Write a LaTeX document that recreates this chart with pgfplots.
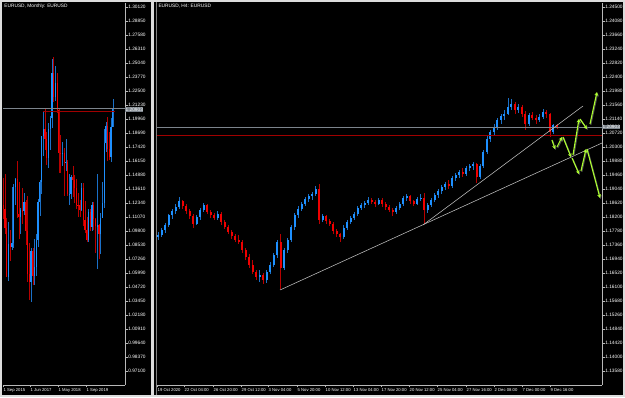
\documentclass[border=0pt]{standalone}
\usepackage{fontspec}
\setmainfont{Liberation Sans}
\usepackage{pgfplots}
\pgfplotsset{compat=1.18}
\usepackage{pgfplotstable}
\usetikzlibrary{arrows.meta}
\definecolor{upc}{HTML}{1E90FF}
\definecolor{upw}{HTML}{1A70C8}
\definecolor{dnc}{HTML}{F00000}
\definecolor{dnw}{HTML}{B80000}
\definecolor{framec}{HTML}{DCDCDC}
\definecolor{axc}{HTML}{B8B8B8}
\definecolor{arr}{HTML}{ADFF2F}
\definecolor{hline}{HTML}{A00000}
\definecolor{bid}{HTML}{7C848C}
\definecolor{trend}{HTML}{C0C0C0}

\pgfplotstableread{
i o h l c
0 1.1213 1.1460 1.1087 1.1177
1 1.1177 1.1495 1.0957 1.1004
2 1.1004 1.1096 1.0562 1.0566
3 1.0566 1.1060 1.0523 1.0862
4 1.0862 1.0986 1.0711 1.0832
5 1.0832 1.1376 1.0810 1.0873
6 1.0873 1.1409 1.0822 1.1380
7 1.1380 1.1464 1.1217 1.1454
8 1.1454 1.1616 1.1097 1.1130
9 1.1130 1.1428 1.0912 1.1103
10 1.1103 1.1185 1.0952 1.1174
11 1.1174 1.1366 1.1046 1.1157
12 1.1157 1.1327 1.1122 1.1240
13 1.1240 1.1258 1.0852 1.0980
14 1.0980 1.1300 1.0518 1.0587
15 1.0587 1.0874 1.0352 1.0517
16 1.0517 1.0829 1.0340 1.0798
17 1.0798 1.0829 1.0494 1.0574
18 1.0574 1.0906 1.0494 1.0652
19 1.0652 1.0951 1.0570 1.0895
20 1.0895 1.1268 1.0839 1.1244
21 1.1244 1.1446 1.1118 1.1425
22 1.1425 1.1846 1.1312 1.1840
23 1.1840 1.2070 1.1662 1.1908
24 1.1908 1.2092 1.1717 1.1813
25 1.1813 1.1880 1.1575 1.1646
26 1.1646 1.1961 1.1554 1.1904
27 1.1904 1.2023 1.1717 1.2005
28 1.2005 1.2537 1.1915 1.2414
29 1.2414 1.2555 1.2154 1.2194
30 1.2194 1.2476 1.2155 1.2324
31 1.2324 1.2414 1.2054 1.2079
32 1.2079 1.2097 1.1510 1.1692
33 1.1692 1.1852 1.1508 1.1684
34 1.1684 1.1791 1.1574 1.1690
35 1.1690 1.1734 1.1301 1.1602
36 1.1602 1.1815 1.1526 1.1604
37 1.1604 1.1622 1.1302 1.1312
38 1.1312 1.1500 1.1215 1.1317
39 1.1317 1.1486 1.1269 1.1466
40 1.1466 1.1570 1.1289 1.1446
41 1.1446 1.1489 1.1234 1.1372
42 1.1372 1.1448 1.1176 1.1217
43 1.1217 1.1324 1.1110 1.1214
44 1.1214 1.1265 1.1107 1.1169
45 1.1169 1.1412 1.1160 1.1370
46 1.1370 1.1412 1.1028 1.1077
47 1.1077 1.1250 1.0963 1.0987
48 1.0987 1.1109 1.0878 1.0900
49 1.0900 1.1179 1.0879 1.1152
50 1.1152 1.1176 1.0981 1.1016
51 1.1016 1.1240 1.0981 1.1213
52 1.1213 1.1239 1.0992 1.1092
53 1.1092 1.1100 1.0778 1.1027
54 1.1027 1.1495 1.0636 1.1030
55 1.1030 1.1040 1.0727 1.0955
56 1.0955 1.1147 1.0767 1.1102
57 1.1102 1.1422 1.1101 1.1234
58 1.1234 1.1908 1.1185 1.1778
59 1.1778 1.1966 1.1695 1.1935
60 1.1935 1.2011 1.1612 1.1720
61 1.1720 1.1881 1.1622 1.1647
62 1.1647 1.2003 1.1603 1.1926
63 1.1926 1.2177 1.1923 1.2090
}\monthly

\pgfplotstableread{
k o h l c
0 1.1760 1.1775 1.1752 1.1766
1 1.1766 1.1788 1.1760 1.1780
2 1.1780 1.1802 1.1772 1.1796
3 1.1796 1.1830 1.1790 1.1825
4 1.1825 1.1845 1.1815 1.1838
5 1.1838 1.1858 1.1830 1.1850
6 1.1850 1.1880 1.1845 1.1868
7 1.1868 1.1872 1.1845 1.1852
8 1.1852 1.1860 1.1830 1.1838
9 1.1838 1.1845 1.1815 1.1822
10 1.1822 1.1828 1.1787 1.1800
11 1.1800 1.1826 1.1795 1.1820
12 1.1820 1.1848 1.1812 1.1842
13 1.1842 1.1862 1.1835 1.1856
14 1.1856 1.1860 1.1828 1.1835
15 1.1835 1.1842 1.1818 1.1826
16 1.1826 1.1833 1.1810 1.1817
17 1.1817 1.1838 1.1812 1.1830
18 1.1830 1.1836 1.1795 1.1805
19 1.1805 1.1812 1.1785 1.1790
20 1.1790 1.1796 1.1768 1.1775
21 1.1775 1.1782 1.1755 1.1762
22 1.1762 1.1770 1.1745 1.1752
23 1.1752 1.1765 1.1738 1.1745
24 1.1745 1.1750 1.1712 1.1720
25 1.1720 1.1728 1.1692 1.1700
26 1.1700 1.1708 1.1668 1.1676
27 1.1676 1.1690 1.1648 1.1655
28 1.1655 1.1662 1.1630 1.1640
29 1.1640 1.1660 1.1625 1.1645
30 1.1645 1.1652 1.1620 1.1630
31 1.1630 1.1662 1.1622 1.1655
32 1.1655 1.1685 1.1648 1.1676
33 1.1676 1.1712 1.1670 1.1706
34 1.1706 1.1752 1.1698 1.1745
35 1.1745 1.1770 1.1603 1.1668
36 1.1668 1.1728 1.1660 1.1720
37 1.1720 1.1758 1.1712 1.1751
38 1.1751 1.1795 1.1745 1.1790
39 1.1790 1.1832 1.1782 1.1825
40 1.1825 1.1852 1.1818 1.1845
41 1.1845 1.1866 1.1838 1.1860
42 1.1860 1.1880 1.1852 1.1875
43 1.1875 1.1888 1.1866 1.1882
44 1.1882 1.1895 1.1872 1.1890
45 1.1890 1.1912 1.1884 1.1905
46 1.1905 1.1920 1.1800 1.1812
47 1.1812 1.1830 1.1805 1.1822
48 1.1822 1.1826 1.1800 1.1808
49 1.1808 1.1815 1.1792 1.1800
50 1.1800 1.1806 1.1770 1.1778
51 1.1778 1.1785 1.1760 1.1768
52 1.1768 1.1772 1.1745 1.1760
53 1.1760 1.1795 1.1755 1.1788
54 1.1788 1.1810 1.1780 1.1805
55 1.1805 1.1824 1.1798 1.1818
56 1.1818 1.1836 1.1810 1.1830
57 1.1830 1.1852 1.1822 1.1847
58 1.1847 1.1862 1.1840 1.1855
59 1.1855 1.1868 1.1846 1.1862
60 1.1862 1.1880 1.1855 1.1872
61 1.1872 1.1878 1.1858 1.1865
62 1.1865 1.1870 1.1850 1.1860
63 1.1860 1.1878 1.1855 1.1872
64 1.1872 1.1876 1.1850 1.1858
65 1.1858 1.1864 1.1842 1.1850
66 1.1850 1.1856 1.1835 1.1842
67 1.1842 1.1848 1.1822 1.1835
68 1.1835 1.1854 1.1830 1.1848
69 1.1848 1.1866 1.1842 1.1860
70 1.1860 1.1882 1.1852 1.1876
71 1.1876 1.1890 1.1868 1.1882
72 1.1882 1.1886 1.1860 1.1868
73 1.1868 1.1872 1.1852 1.1860
74 1.1860 1.1880 1.1855 1.1875
75 1.1875 1.1890 1.1868 1.1878
76 1.1878 1.1892 1.1800 1.1840
77 1.1840 1.1862 1.1832 1.1856
78 1.1856 1.1878 1.1850 1.1872
79 1.1872 1.1892 1.1865 1.1886
80 1.1886 1.1905 1.1878 1.1898
81 1.1898 1.1915 1.1890 1.1910
82 1.1910 1.1924 1.1900 1.1918
83 1.1918 1.1930 1.1905 1.1912
84 1.1912 1.1942 1.1908 1.1937
85 1.1937 1.1952 1.1928 1.1945
86 1.1945 1.1962 1.1938 1.1955
87 1.1955 1.1968 1.1940 1.1948
88 1.1948 1.1972 1.1942 1.1967
89 1.1967 1.1980 1.1958 1.1972
90 1.1972 1.1985 1.1962 1.1978
91 1.1978 1.1982 1.1922 1.1940
92 1.1940 1.1978 1.1935 1.1972
93 1.1972 1.2022 1.1966 1.2015
94 1.2015 1.2062 1.2008 1.2055
95 1.2055 1.2082 1.2045 1.2075
96 1.2075 1.2098 1.2065 1.2090
97 1.2090 1.2118 1.2082 1.2110
98 1.2110 1.2130 1.2100 1.2122
99 1.2122 1.2140 1.2112 1.2130
100 1.2130 1.2177 1.2125 1.2150
101 1.2150 1.2175 1.2140 1.2158
102 1.2158 1.2165 1.2130 1.2140
103 1.2140 1.2160 1.2132 1.2150
104 1.2150 1.2155 1.2120 1.2130
105 1.2130 1.2138 1.2081 1.2100
106 1.2100 1.2132 1.2092 1.2125
107 1.2125 1.2135 1.2110 1.2118
108 1.2118 1.2125 1.2100 1.2112
109 1.2112 1.2128 1.2105 1.2120
110 1.2120 1.2145 1.2115 1.2135
111 1.2135 1.2142 1.2118 1.2128
112 1.2128 1.2132 1.2060 1.2075
113 1.2075 1.2100 1.2068 1.2095
114 1.2095 1.2100 1.2085 1.2090
}\hfour

\newcommand{\tinyfont}{\fontsize{4.8}{5.2}\selectfont}
\newcommand{\xfont}{\fontsize{4.2}{4.6}\selectfont}

\pgfplotsset{
  mt/.style={
    scale only axis, clip=false, enlargelimits=false,
    axis x line*=bottom, axis y line*=right,
    axis line style={draw=axc, line width=0.5pt, -},
    tick align=outside, major tick length=2.5pt,
    tick style={draw=axc, line width=0.4pt},
    yticklabel style={font=\tinyfont, text=white, anchor=west, inner sep=0pt, xshift=0.6pt},
    xticklabel style={font=\xfont, text=white, anchor=north west, inner sep=0pt, xshift=0.5pt, yshift=-0.8pt},
    minor tick num=0,
  },
  wickup/.style 2 args={draw=none, forget plot,
    restrict expr to domain={\thisrow{c}-\thisrow{o}}{0:1},
    error bars/.cd, y dir=both, y explicit, error mark=none,
    error bar style={draw=#1, line width=#2}},
  wickdn/.style 2 args={draw=none, forget plot,
    restrict expr to domain={\thisrow{c}-\thisrow{o}}{-1:-0.00000001},
    error bars/.cd, y dir=both, y explicit, error mark=none,
    error bar style={draw=#1, line width=#2}},
  arrw/.style={draw=arr, line width=1.1pt, -{Stealth[length=3.6pt,width=3.8pt]}, forget plot},
  arrs/.style={draw=black!70, line width=1.1pt, -{Stealth[length=3.6pt,width=3.8pt]}, forget plot, xshift=0.8pt, yshift=-0.9pt},
}

\begin{document}
\begin{tikzpicture}[x=1pt,y=1pt]
\fill[framec] (0,0) rectangle (625,397);
\fill[black] (2,2) rectangle (151,395);
\fill[black] (153.5,2) rectangle (623,395);
\draw[gray, line width=0.6pt] (156.3,2) -- (156.3,395);

% ---------------- left: monthly ----------------
\begin{axis}[mt, at={(3pt,12pt)}, anchor=south west, width=122pt, height=382pt,
  xmin=-0.115, xmax=70.0, ymin=0.9583, ymax=1.30483,
  xtick={-0.115,15.4,31.5,47.6},
  xticklabels={1 Sep 2015,1 Jun 2017,1 May 2018,1 Sep 2019},
  ytick={1.30120,1.28850,1.27580,1.26310,1.25040,1.23770,1.22500,1.21230,1.19960,1.18690,1.17420,1.16150,1.14880,1.13610,1.12340,1.11070,1.09800,1.08530,1.07260,1.05990,1.04720,1.03450,1.02180,1.00910,0.99640,0.98370,0.97100},
  yticklabels={1.30120,1.28850,1.27580,1.26310,1.25040,1.23770,1.22500,1.21230,1.19960,1.18690,1.17420,1.16150,1.14880,1.13610,1.12340,1.11070,1.09800,1.08530,1.07260,1.05990,1.04720,1.03450,1.02180,1.00910,0.99640,0.98370,0.97100},
]
\addplot [wickup={upw}{0.45pt}] table [x=i, y expr=(\thisrow{h}+\thisrow{l})/2, y error expr=(\thisrow{h}-\thisrow{l})/2] {\monthly};
\addplot [wickdn={dnw}{0.45pt}] table [x=i, y expr=(\thisrow{h}+\thisrow{l})/2, y error expr=(\thisrow{h}-\thisrow{l})/2] {\monthly};
\addplot [wickup={upc}{1.2pt}] table [x=i, y expr=(\thisrow{o}+\thisrow{c})/2, y error expr=abs(\thisrow{c}-\thisrow{o})/2] {\monthly};
\addplot [wickdn={dnc}{1.2pt}] table [x=i, y expr=(\thisrow{o}+\thisrow{c})/2, y error expr=abs(\thisrow{c}-\thisrow{o})/2] {\monthly};
\addplot [bid, line width=0.6pt, forget plot] coordinates {(-0.115,1.2090) (70.0,1.2090)};
\addplot [hline, line width=0.6pt, forget plot] coordinates {(22.9,1.2070) (64.3,1.2070)};
\node[anchor=west, fill=bid, text=white, inner sep=0.4pt, font=\tinyfont] at (axis cs:70.0,1.2082) {1.20903};
\node[anchor=north west, text=white, inner sep=0pt, font=\tinyfont] at (rel axis cs:0.01,0.997) {EURUSD, Monthly: EURUSD};
\end{axis}

% ---------------- right: H4 ----------------
\begin{axis}[mt, at={(157pt,12pt)}, anchor=south west, width=445pt, height=382pt,
  xmin=-0.29, xmax=126.86, ymin=1.1316, ymax=1.2462,
  xtick={-0.29,7.43,15.71,23.71,31.43,39.71,47.71,55.71,63.71,71.71,79.71,88.0,96.0,104.0,112.0},
  xticklabels={19 Oct 2020,22 Oct 04:00,26 Oct 20:00,29 Oct 12:00,3 Nov 04:00,5 Nov 20:00,10 Nov 12:00,13 Nov 04:00,17 Nov 20:00,20 Nov 12:00,25 Nov 04:00,27 Nov 16:00,2 Dec 08:00,7 Dec 00:00,9 Dec 16:00},
  ytick={1.24500,1.24080,1.23660,1.23240,1.22820,1.22400,1.21980,1.21560,1.21140,1.20720,1.20300,1.19880,1.19460,1.19040,1.18620,1.18200,1.17780,1.17360,1.16940,1.16520,1.16100,1.15680,1.15260,1.14840,1.14420,1.14000,1.13580},
  yticklabels={1.24500,1.24080,1.23660,1.23240,1.22820,1.22400,1.21980,1.21560,1.21140,1.20720,1.20300,1.19880,1.19460,1.19040,1.18620,1.18200,1.17780,1.17360,1.16940,1.16520,1.16100,1.15680,1.15260,1.14840,1.14420,1.14000,1.13580},
]
\addplot [wickup={upw}{0.6pt}] table [x=k, y expr=(\thisrow{h}+\thisrow{l})/2, y error expr=(\thisrow{h}-\thisrow{l})/2] {\hfour};
\addplot [wickdn={dnw}{0.6pt}] table [x=k, y expr=(\thisrow{h}+\thisrow{l})/2, y error expr=(\thisrow{h}-\thisrow{l})/2] {\hfour};
\addplot [wickup={upc}{2.0pt}] table [x=k, y expr=(\thisrow{o}+\thisrow{c})/2, y error expr=abs(\thisrow{c}-\thisrow{o})/2] {\hfour};
\addplot [wickdn={dnc}{2.0pt}] table [x=k, y expr=(\thisrow{o}+\thisrow{c})/2, y error expr=abs(\thisrow{c}-\thisrow{o})/2] {\hfour};
\addplot [bid, line width=0.6pt, forget plot] coordinates {(-0.29,1.2090) (126.86,1.2090)};
\addplot [hline, line width=0.6pt, forget plot] coordinates {(-0.29,1.2066) (126.86,1.2066)};
\addplot [trend, line width=0.55pt, forget plot] coordinates {(34.86,1.1601) (126.86,1.2042)};
\addplot [trend, line width=0.55pt, forget plot] coordinates {(75.71,1.1796) (121.43,1.2153)};
% arrows: shadows
\addplot [arrs] coordinates {(112.57,1.2051) (113.43,1.2024)};
\addplot [arrs] coordinates {(114.0,1.2030) (115.43,1.2060)};
\addplot [arrs] coordinates {(115.71,1.2060) (118.0,1.2000)};
\addplot [arrs] coordinates {(118.57,1.2006) (120.29,1.2114)};
\addplot [arrs] coordinates {(120.57,1.2114) (122.57,1.2084)};
\addplot [arrs] coordinates {(123.43,1.2099) (125.43,1.2195)};
\addplot [arrs] coordinates {(118.29,1.1997) (120.29,1.1949)};
\addplot [arrs] coordinates {(120.86,1.1958) (122.29,1.2024)};
\addplot [arrs] coordinates {(122.57,1.2024) (126.29,1.1877)};
% arrows
\addplot [arrw] coordinates {(112.57,1.2051) (113.43,1.2024)};
\addplot [arrw] coordinates {(114.0,1.2030) (115.43,1.2060)};
\addplot [arrw] coordinates {(115.71,1.2060) (118.0,1.2000)};
\addplot [arrw] coordinates {(118.57,1.2006) (120.29,1.2114)};
\addplot [arrw] coordinates {(120.57,1.2114) (122.57,1.2084)};
\addplot [arrw] coordinates {(123.43,1.2099) (125.43,1.2195)};
\addplot [arrw] coordinates {(118.29,1.1997) (120.29,1.1949)};
\addplot [arrw] coordinates {(120.86,1.1958) (122.29,1.2024)};
\addplot [arrw] coordinates {(122.57,1.2024) (126.29,1.1877)};
\node[anchor=west, fill=bid, text=white, inner sep=0.4pt, font=\tinyfont] at (axis cs:126.86,1.2090) {1.20903};
\node[anchor=north west, text=white, inner sep=0pt, font=\tinyfont] at (rel axis cs:0.003,0.997) {EURUSD, H4: EURUSD};
\end{axis}
\pgfresetboundingbox
\useasboundingbox (0,0) rectangle (625,397);
\end{tikzpicture}
\end{document}
